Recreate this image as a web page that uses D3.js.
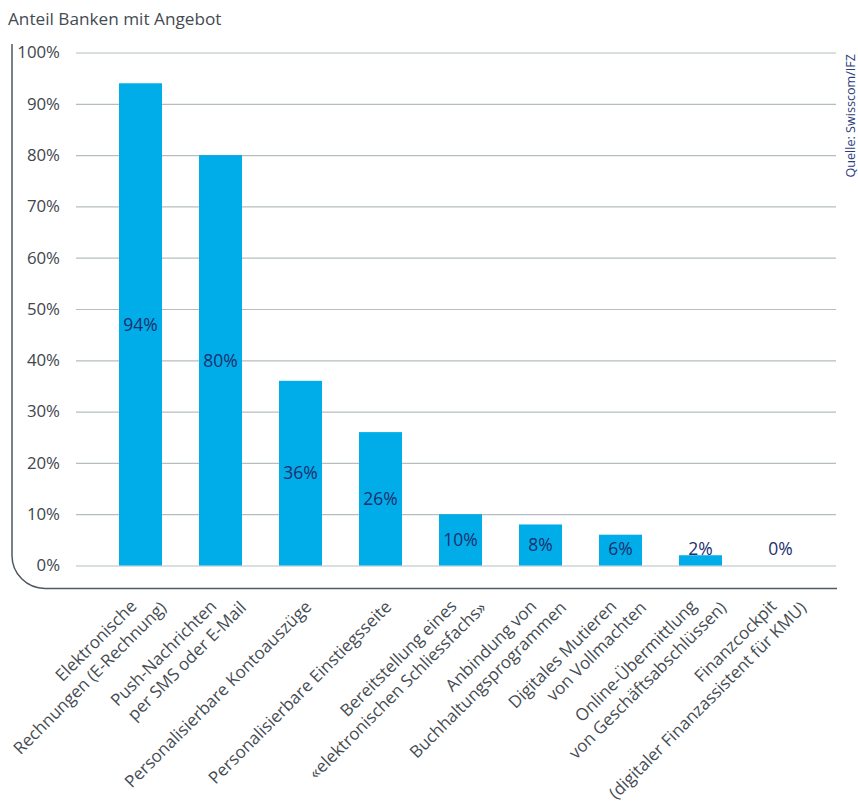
<!DOCTYPE html>
<html>
<head>
<meta charset="utf-8">
<script src="https://cdn.jsdelivr.net/npm/d3@7"></script>
<style>
  html, body { margin: 0; padding: 0; background: #fff; }
  svg { display: block; font-family: "Open Sans", "Noto Sans", sans-serif; }
</style>
</head>
<body>
<svg id="chart" width="858" height="805"></svg>
<script>
// Categories (each entry = the lines of its axis label)
const categories = [
  ["Elektronische", "Rechnungen (E-Rechnung)"],
  ["Push-Nachrichten", "per SMS oder E-Mail"],
  ["Personalisierbare Kontoauszüge"],
  ["Personalisierbare Einstiegsseite"],
  ["Bereitstellung eines", "«elektronischen Schliessfachs»"],
  ["Anbindung von", "Buchhaltungsprogrammen"],
  ["Digitales Mutieren", "von Vollmachten"],
  ["Online-Übermittlung", "von Geschäftsabschlüssen)"],
  ["Finanzcockpit", "(digitaler Finanzassistent für KMU)"]
];
// Share of banks offering each service, in percent
const values = [94, 80, 36, 26, 10, 8, 6, 2, 0];
// Y-axis ticks, in percent
const yTicks = [0, 10, 20, 30, 40, 50, 60, 70, 80, 90, 100];

const titleText = "Anteil Banken mit Angebot";
const sourceText = "Quelle: Swisscom/IFZ";

const svg = d3.select("#chart");
const keys = categories.map(c => c.join(" "));

const x = d3.scaleBand()
  .domain(keys)
  .range([100.5, 820.5])
  .paddingInner(0.4625)
  .paddingOuter(0.23125);

const y = d3.scaleLinear()
  .domain([0, 100])
  .range([565.5, 52.5]);

// Title
svg.append("text")
  .attr("x", 8).attr("y", 25)
  .attr("font-size", 17.2)
  .attr("fill", "#444b52")
  .text(titleText);

// Frame: left line with rounded corner into the bottom line
const fx = 12, fTop = 44, fBottom = 588.5, fRight = 837, r = 33;
svg.append("path")
  .attr("d", `M${fx},${fTop} V${fBottom - r} A${r},${r} 0 0 0 ${fx + r},${fBottom} H${fRight}`)
  .attr("fill", "none")
  .attr("stroke", "#4f5963")
  .attr("stroke-width", 1.5);

// Gridlines and tick labels
const yAxis = d3.axisLeft(y)
  .tickValues(yTicks)
  .tickFormat(d => d + "%")
  .tickSize(-(836 - 76))
  .tickPadding(16);

const gy = svg.append("g")
  .attr("transform", "translate(76,0)")
  .call(yAxis);
gy.select(".domain").remove();
gy.selectAll(".tick line")
  .attr("stroke", "#b4bdc0")
  .attr("stroke-width", 1.2);
gy.selectAll(".tick text")
  .attr("font-size", 16.8)
  .attr("fill", "#3f464d")
  .attr("font-family", "\"Open Sans\", sans-serif");

// Bars
svg.append("g")
  .selectAll("rect")
  .data(values)
  .join("rect")
  .attr("x", (d, i) => x(keys[i]))
  .attr("width", x.bandwidth())
  .attr("y", d => y(d))
  .attr("height", d => y(0) - y(d))
  .attr("fill", "#00ade8");

// Value labels
svg.append("g")
  .selectAll("text")
  .data(values)
  .join("text")
  .attr("x", (d, i) => x(keys[i]) + x.bandwidth() / 2)
  .attr("y", d => Math.min((y(d) + y(0)) / 2, 549))
  .attr("dy", "0.36em")
  .attr("text-anchor", "middle")
  .attr("font-size", 17.5)
  .attr("fill", "#1d2f6f")
  .text(d => d + "%");

// Rotated category labels
const lab = svg.append("g")
  .selectAll("g")
  .data(categories)
  .join("g")
  .attr("transform", (d, i) => `translate(${x(keys[i]) + x.bandwidth() / 2 + 12},608) rotate(-45)`);

lab.each(function(lines) {
  const g = d3.select(this);
  const n = lines.length;
  lines.forEach((t, i) => {
    const k = i - (n - 1) / 2;
    g.append("text")
      .attr("x", 20 * k)
      .attr("y", 22 * k)
      .attr("text-anchor", "end")
      .attr("font-size", 17)
      .attr("fill", "#454c53")
      .text(t);
  });
});

// Source note
svg.append("text")
  .attr("transform", "translate(855,54) rotate(-90)")
  .attr("text-anchor", "end")
  .attr("font-size", 12.6)
  .attr("fill", "#2b3d7c")
  .text(sourceText);
</script>
</body>
</html>
